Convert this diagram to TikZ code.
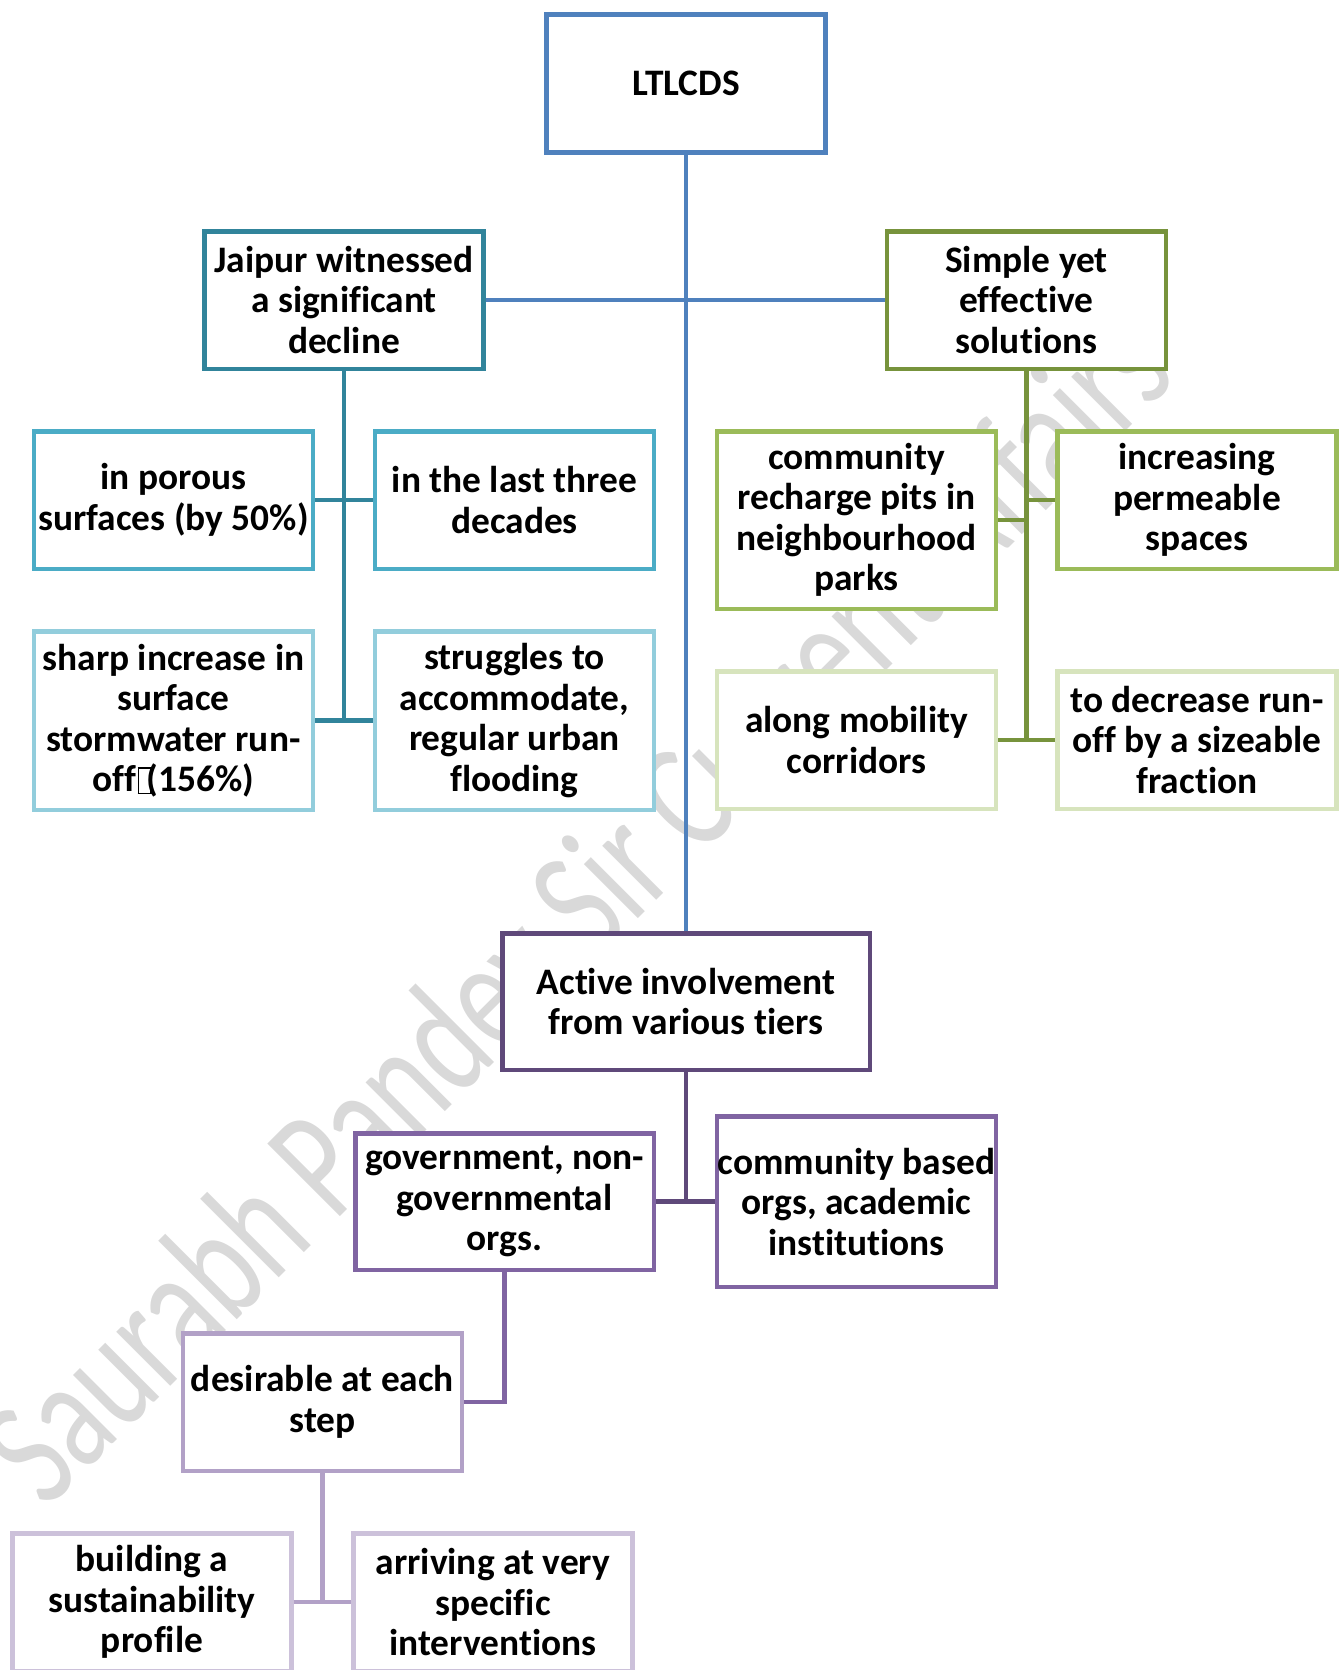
\documentclass[tikz,border=0pt]{standalone}
\usepackage{fontspec}
\setmainfont{Carlito}[Ligatures=NoCommon]
\usepackage{graphicx}
\definecolor{cblue}{HTML}{4F81BD}
\definecolor{cteal}{HTML}{31849B}
\definecolor{cteallt}{HTML}{4BACC6}
\definecolor{ctealxl}{HTML}{92CDDC}
\definecolor{cgreen}{HTML}{77933C}
\definecolor{cgreenlt}{HTML}{9BBB59}
\definecolor{cgreenxl}{HTML}{D7E4BD}
\definecolor{cpurp}{HTML}{5F497A}
\definecolor{cpurplt}{HTML}{8064A2}
\definecolor{cpurpxl}{HTML}{B2A1C7}
\definecolor{cpurpxxl}{HTML}{CCC1DA}
\definecolor{wmgray}{HTML}{D9D9D9}
\newcommand\tofuglyph{\kern1pt{\setlength\fboxsep{0pt}\setlength\fboxrule{1.6pt}\raisebox{-1pt}{\fbox{\rule{0pt}{24pt}\hspace{11pt}}}}\kern-5pt}
\begin{document}
\begin{tikzpicture}[x=1pt,y=-1pt,
  box/.style={draw=#1, fill=white, line width=4.5pt, inner sep=0pt, align=center,
    minimum width=279pt, minimum height=137.5pt,
    font=\fontsize{37.4}{40.5}\selectfont\bfseries},
  conn/.style={draw=#1, line width=4.5pt}]
\useasboundingbox (0,0) rectangle (1342,1670);
\clip (0,0) rectangle (1342,1670);
% watermark
\node[rotate=45, anchor=base west, inner sep=0pt, text=wmgray,
  font=\fontsize{160}{160}\selectfont] (wm) at (46,1511)
  {\scalebox{0.72}[1]{Saurabh Pandey Sir Current Affairs}};
% boxes
\node[box=cblue] (ltl) at (686,83.5) {LTLCDS};
\node[box=cteal] (jai) at (344,300) {Jaipur witnessed\\a significant\\decline};
\node[box=cgreen] (sim) at (1026.5,300) {Simple yet\\effective\\solutions};
\node[box=cteallt] (por) at (173.5,500) {in porous\\surfaces (by 50\%)};
\node[box=cteallt] (last) at (514.5,500) {in the last three\\decades};
\node[box=ctealxl, minimum height=178.5pt] (sharp) at (173.5,720.5) {sharp increase in\\surface\\stormwater run-\\off\tofuglyph(156\%)};
\node[box=ctealxl, minimum height=178.5pt] (strug) at (514.5,720.5) {struggles to\\accommodate,\\regular urban\\flooding};
\node[box=cgreenlt, minimum height=177.5pt] (comm) at (856.5,520) {community\\recharge pits in\\neighbourhood\\parks};
\node[box=cgreenlt] (inc) at (1197,500) {increasing\\permeable\\spaces};
\node[box=cgreenxl] (along) at (856.5,740) {along mobility\\corridors};
\node[box=cgreenxl] (dec) at (1197,740) {to decrease run-\\off by a sizeable\\fraction};
\node[box=cpurp, minimum width=367.5pt, minimum height=136.5pt] (act) at (686,1001.5) {Active involvement\\from various tiers};
\node[box=cpurplt, minimum width=298.5pt, minimum height=136.5pt] (gov) at (504.5,1201.5) {government, non-\\governmental\\orgs.};
\node[box=cpurplt, minimum height=170.5pt] (cbo) at (856.5,1201.5) {community based\\orgs, academic\\institutions};
\node[box=cpurpxl] (des) at (322.5,1402) {desirable at each\\step};
\node[box=cpurpxxl] (bld) at (152,1602) {building a\\sustainability\\profile};
\node[box=cpurpxxl] (arr) at (493,1602) {arriving at very\\specific\\interventions};
% connectors
\draw[conn=cblue] (ltl.south) -- (act.north);
\draw[conn=cblue] (jai.east) -- (sim.west);
\draw[conn=cteal] (jai.south) -- (jai.south |- sharp.east);
\draw[conn=cteal] (por.east) -- (last.west);
\draw[conn=cteal] (sharp.east) -- (strug.west);
\draw[conn=cgreen] (sim.south) -- (sim.south |- along.east);
\draw[conn=cgreen] (comm.east) -- (comm.east -| sim.south);
\draw[conn=cgreen] (sim.south |- inc.west) -- (inc.west);
\draw[conn=cgreen] (along.east) -- (dec.west);
\draw[conn=cpurp] (act.south) -- (act.south |- gov.east);
\draw[conn=cpurp] (gov.east) -- (cbo.west);
\draw[conn=cpurplt] (gov.south) -- (gov.south |- des.east) -- (des.east);
\draw[conn=cpurpxl] (des.south) -- (des.south |- bld.east);
\draw[conn=cpurpxl] (bld.east) -- (arr.west);
\end{tikzpicture}
\end{document}
